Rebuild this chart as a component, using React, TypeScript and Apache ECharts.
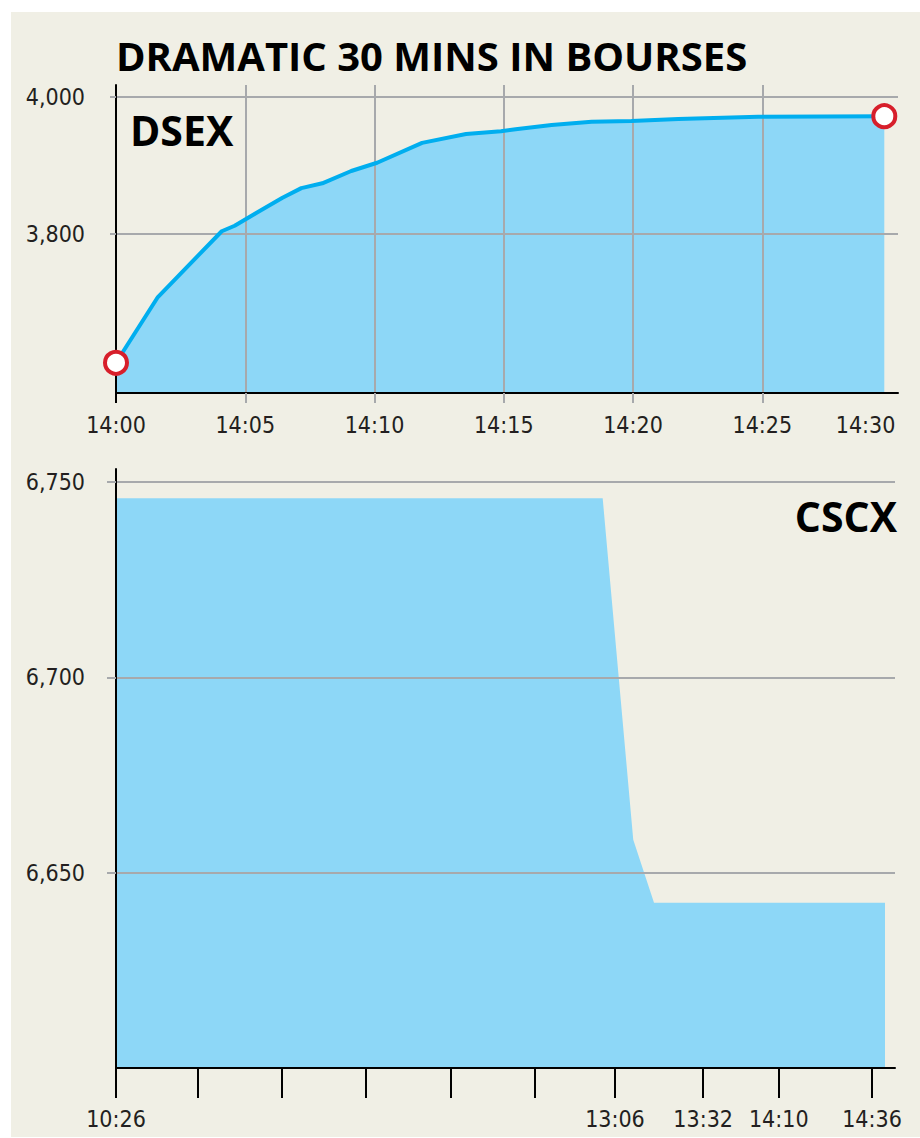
import React, { useEffect, useRef } from 'react';
import * as echarts from 'echarts';

// ---- DSEX (top panel): minutes after 14:00 and index values ----
const dsexMinutes = [0, 1.62, 4.09, 4.59, 5.44, 6.44, 7.17, 7.98, 9.1, 10.1, 11.84, 13.54, 14.89, 15.46, 16.85, 18.4, 19.94, 21.75, 24.84, 29.72];
const dsexValues = [3612, 3708, 3804, 3812, 3831, 3853, 3867, 3874, 3892, 3904, 3933, 3946, 3950, 3953, 3959, 3964, 3965, 3968, 3971, 3972];
const dsexTickMinutes = [0, 5, 10, 15, 20, 25, 30];
const dsexTickLabels = ['14:00', '14:05', '14:10', '14:15', '14:20', '14:25', '14:30'];
const dsexGridMinutes = [5, 10, 15, 20, 25];
const dsexYTicks = [3800, 4000];

// ---- CSCX (bottom panel): positions on the (uneven) time axis and values ----
const cscxPos = [0, 5.794, 6.158, 6.405, 9.155];
const cscxValues = [6745.8, 6745.8, 6658.4, 6642.3, 6642.3];
const cscxTickPos = [0, 0.97, 1.97, 2.97, 3.98, 4.98, 5.94, 6.99, 7.89, 9];
const cscxTickLabels = ['10:26', '', '', '', '', '', '13:06', '13:32', '14:10', '14:36'];
const cscxYTicks = [6650, 6700, 6750];

const TITLE = 'DRAMATIC 30 MINS IN BOURSES';

const narrow = "'Liberation Sans Narrow', 'Arial Narrow', 'DejaVu Sans Condensed', Roboto, sans-serif";
const bold = "'Open Sans', 'Noto Sans', sans-serif";
const GREY = '#a7a9ac';
const INK = '#231f20';
const FILL = '#8dd7f7';
const LINE = '#00aeef';
const RED = '#d71f2b';

const comma = (v: number) => String(v).replace(/\B(?=(\d{3})+(?!\d))/g, ',');

export default function App() {
  const ref = useRef<HTMLDivElement>(null);

  useEffect(() => {
    document.body.style.margin = '0';
    if (!ref.current) return;
    const chart = echarts.init(ref.current, undefined, { renderer: 'svg' });

    const lastIdx = dsexMinutes.length - 1;
    const lineData = dsexMinutes.map((m, i) => ({
      value: [m, dsexValues[i]],
      symbol: i === 0 || i === lastIdx ? 'circle' : 'none',
    }));
    const areaData = dsexMinutes.map((m, i) => [m, dsexValues[i]]);
    const cscxData = cscxPos.map((p, i) => [p, cscxValues[i]]);
    const cscxLabelPos = cscxTickPos.filter((_, i) => cscxTickLabels[i] !== '');

    const labelStyle = { fontFamily: narrow, fontSize: 23, color: INK };

    const option: any = {
      animation: false,
      grid: [
        { left: 116, top: 85, width: 782, height: 308 },
        { left: 116, top: 469, width: 779, height: 599 },
      ],
      xAxis: [
        {
          type: 'value',
          gridIndex: 0,
          min: 0,
          max: 30.25,
          z: 2,
          axisLine: { show: true, onZero: false, lineStyle: { color: '#000', width: 2 } },
          axisTick: { show: true, customValues: dsexGridMinutes, length: 10, lineStyle: { color: GREY, width: 2 } },
          splitLine: { show: true, lineStyle: { color: GREY, width: 2 } },
          axisLabel: {
            ...labelStyle,
            margin: 20,
            customValues: dsexTickMinutes,
            formatter: (v: number) => {
              const i = dsexTickMinutes.indexOf(v);
              if (i < 0) return '';
              return i === dsexTickMinutes.length - 1 ? `{last|${dsexTickLabels[i]}}` : dsexTickLabels[i];
            },
            rich: { last: { ...labelStyle, padding: [0, 52, 0, 0] } },
          },
        },
        {
          type: 'value',
          gridIndex: 1,
          min: 0,
          max: 9.274,
          z: 2,
          axisLine: { show: true, onZero: false, lineStyle: { color: '#000', width: 2 } },
          axisTick: { show: true, customValues: cscxTickPos, length: 30, lineStyle: { color: '#000', width: 2 } },
          splitLine: { show: false },
          axisLabel: {
            ...labelStyle,
            margin: 39,
            customValues: cscxLabelPos,
            formatter: (v: number) => {
              const i = cscxTickPos.indexOf(v);
              return i < 0 ? '' : cscxTickLabels[i];
            },
          },
        },
      ],
      yAxis: [
        {
          type: 'value',
          gridIndex: 0,
          min: 3567.9,
          max: 4017.5,
          z: 2,
          axisLine: { show: true, onZero: false, lineStyle: { color: '#000', width: 2 } },
          axisTick: { show: true, customValues: dsexYTicks, length: 6, lineStyle: { color: GREY, width: 2 } },
          splitLine: { show: true, lineStyle: { color: GREY, width: 2 } },
          axisLabel: { ...labelStyle, margin: 31, customValues: dsexYTicks, formatter: (v: number) => comma(v) },
        },
        {
          type: 'value',
          gridIndex: 1,
          min: 6600,
          max: 6753.3,
          z: 2,
          axisLine: { show: true, onZero: false, lineStyle: { color: '#000', width: 2 } },
          axisTick: { show: true, customValues: cscxYTicks, length: 9, lineStyle: { color: GREY, width: 2 } },
          splitLine: { show: true, lineStyle: { color: GREY, width: 2 } },
          axisLabel: { ...labelStyle, margin: 31, customValues: cscxYTicks, formatter: (v: number) => comma(v) },
        },
      ],
      series: [
        {
          type: 'line',
          xAxisIndex: 0,
          yAxisIndex: 0,
          data: areaData,
          showSymbol: false,
          lineStyle: { width: 0 },
          areaStyle: { color: FILL, opacity: 1, origin: 'start' },
          z: 1,
          silent: true,
        },
        {
          type: 'line',
          xAxisIndex: 0,
          yAxisIndex: 0,
          data: lineData,
          showSymbol: true,
          symbolSize: 22,
          lineStyle: { color: LINE, width: 4 },
          itemStyle: { color: '#fff', borderColor: RED, borderWidth: 4 },
          z: 3,
          silent: true,
        },
        {
          type: 'line',
          xAxisIndex: 1,
          yAxisIndex: 1,
          data: cscxData,
          showSymbol: false,
          lineStyle: { width: 0 },
          areaStyle: { color: FILL, opacity: 1, origin: 'start' },
          z: 1,
          silent: true,
        },
      ],
      graphic: [
        {
          type: 'text',
          x: 116,
          y: 55,
          z: 100,
          style: { text: TITLE, font: `bold 40px ${bold}`, fill: '#000', align: 'left', verticalAlign: 'middle' },
        },
        {
          type: 'text',
          x: 130,
          y: 130,
          z: 100,
          style: { text: 'DSEX', font: `bold 41px ${bold}`, fill: '#000', align: 'left', verticalAlign: 'middle' },
        },
        {
          type: 'text',
          x: 897,
          y: 516,
          z: 100,
          style: { text: 'CSCX', font: `bold 41px ${bold}`, fill: '#000', align: 'right', verticalAlign: 'middle' },
        },
        {
          type: 'line',
          z: 100,
          shape: { x1: 116, y1: 392, x2: 116, y2: 403 },
          style: { stroke: '#000', lineWidth: 2 },
        },
      ],
    };

    chart.setOption(option);
    return () => chart.dispose();
  }, []);

  return (
    <div style={{ position: 'relative', width: 920, height: 1138, background: '#ffffff' }}>
      <div style={{ position: 'absolute', left: 11, top: 12, width: 909, height: 1125, background: '#f0efe5' }} />
      <div ref={ref} style={{ position: 'absolute', left: 0, top: 0, width: 920, height: 1138 }} />
    </div>
  );
}
